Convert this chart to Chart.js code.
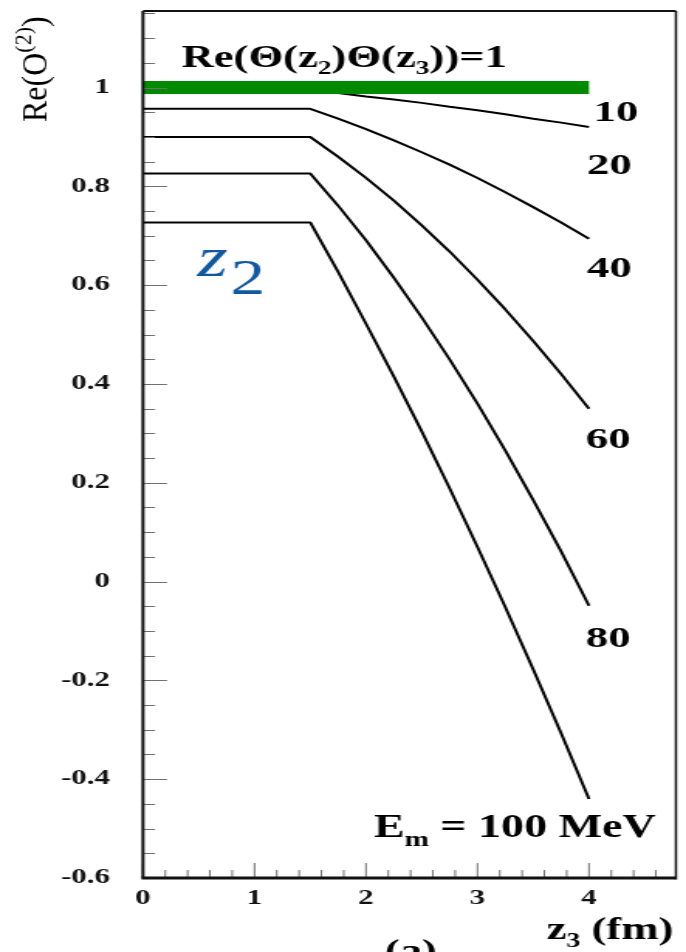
<!DOCTYPE html>
<html>
<head>
<meta charset="utf-8">
<title>Re(O(2)) vs z3</title>
<script src="https://cdn.jsdelivr.net/npm/chart.js@4.4.1/dist/chart.umd.min.js"></script>
<style>
  html, body { margin: 0; padding: 0; background: #ffffff; overflow: hidden; }
  /* the figure is laid out narrow and widened horizontally */
  #stage { width: 443px; height: 952px; transform: scaleX(1.548533); transform-origin: 0 0; }
</style>
</head>
<body>
<div id="stage"><canvas id="c"></canvas></div>
<script>
// ---- data -------------------------------------------------------------
// z3 sample points in fm
const z3 = [0, 1.5, 1.75, 2.0, 2.25, 2.5, 2.75, 3.0, 3.25, 3.5, 3.75, 4.0];

// Re(O^(2)) along z3 for each curve
const curve10 = [0.995, 0.995, 0.989, 0.982, 0.976, 0.969, 0.961, 0.954, 0.946, 0.937, 0.929, 0.920];
const curve20 = [0.957, 0.957, 0.937, 0.916, 0.893, 0.869, 0.844, 0.817, 0.788, 0.758, 0.727, 0.694];
const curve40 = [0.900, 0.900, 0.860, 0.817, 0.771, 0.721, 0.668, 0.611, 0.551, 0.487, 0.420, 0.350];
const curve60 = [0.826, 0.826, 0.761, 0.691, 0.615, 0.535, 0.450, 0.360, 0.265, 0.165, 0.061, -0.049];
const curve80 = [0.727, 0.727, 0.627, 0.522, 0.415, 0.304, 0.189, 0.070, -0.052, -0.178, -0.307, -0.440];

// reference level Re(Θ(z2)Θ(z3)) = 1
const unityZ3 = [0, 4];
const unityValue = [1, 1];

// curve tags written at the right-hand end
const curveTags = ['10', '20', '40', '60', '80'];

// axis tick labels
const xTickLabels = [0, 1, 2, 3, 4];
const yTickLabels = [-0.6, -0.4, -0.2, 0, 0.2, 0.4, 0.6, 0.8, 1];

// ---- layout helpers ---------------------------------------------------
const SX = 686 / 443;                 // horizontal widening of the stage
const SERIF = '"Liberation Serif", "Times New Roman", serif';

// minor tick grids: every 0.2 fm on z3, every 0.05 on Re(O)
const xTickValues = [];
for (let i = 0; i <= 23; i++) xTickValues.push(+(i * 0.2).toFixed(2));
const yTickValues = [];
for (let i = -12; i <= 23; i++) yTickValues.push(+(i * 0.05).toFixed(2));

const isListed = (v, list) => list.some(t => Math.abs(t - v) < 1e-6);
const fmt = v => String(Math.round(v * 100) / 100);

const toPoints = (xs, ys) => xs.map((x, i) => ({ x: x, y: ys[i] }));

const curves = [
  { name: '10', values: curve10 },
  { name: '20', values: curve20 },
  { name: '40', values: curve40 },
  { name: '60', values: curve60 },
  { name: '80', values: curve80 }
];

// text placements in data units (z3, Re)
const tagSpots = [[4.04, 0.933], [3.98, 0.826], [3.98, 0.617], [3.97, 0.271], [3.97, -0.132]];
const notes = {
  unity: { at: [0.345, 1.0425], sx: 0.93 },
  energy: { at: [2.07, -0.518], sx: 0.9 },
  unit: { at: [3.62, -0.7227], sx: 0.9 },
  panel: { at: [2.17, -0.769], sx: 0.9 },
  zTwo: { at: [0.487, 0.619], sx: 0.9 }
};

function drawRich(ctx, x, y, sx, parts) {
  ctx.save();
  ctx.translate(x, y);
  ctx.scale(sx, 1);
  ctx.textAlign = 'left';
  ctx.textBaseline = 'alphabetic';
  let cx = 0;
  parts.forEach(p => {
    ctx.font = p.font;
    ctx.fillStyle = p.color || '#000';
    ctx.fillText(p.t, cx + (p.dx || 0), p.dy || 0);
    cx += ctx.measureText(p.t).width + (p.dx || 0);
  });
  ctx.restore();
}

// ---- frame and inward tick marks --------------------------------------
const frameTicks = {
  id: 'frameTicks',
  afterDatasetsDraw(chart) {
    const { ctx, chartArea: a, scales: { x, y } } = chart;
    ctx.save();
    ctx.strokeStyle = '#707070';
    ctx.lineWidth = 1;
    ctx.beginPath();
    y.ticks.forEach(t => {
      const py = Math.round(y.getPixelForValue(t.value)) + 0.5;
      const len = isListed(t.value, yTickLabels) ? 15.5 : 7.8;
      ctx.moveTo(a.left, py);
      ctx.lineTo(a.left + len, py);
    });
    x.ticks.forEach(t => {
      const px = x.getPixelForValue(t.value);
      const len = isListed(t.value, xTickLabels) ? 15 : 8;
      ctx.moveTo(px, a.bottom);
      ctx.lineTo(px, a.bottom - len);
    });
    ctx.stroke();

    ctx.strokeStyle = '#111';
    ctx.lineWidth = 2;
    ctx.beginPath();
    ctx.moveTo(a.left, a.top); ctx.lineTo(a.left, a.bottom);
    ctx.stroke();
    ctx.lineWidth = 3;
    ctx.beginPath();
    ctx.moveTo(a.left - 1, a.bottom); ctx.lineTo(a.right, a.bottom);
    ctx.stroke();
    ctx.lineWidth = 2;
    ctx.beginPath();
    ctx.moveTo(a.left, a.top); ctx.lineTo(a.right, a.top);
    ctx.stroke();
    ctx.lineWidth = 1.5;
    ctx.beginPath();
    ctx.moveTo(a.right, a.top); ctx.lineTo(a.right, a.bottom + 1.5);
    ctx.stroke();
    ctx.restore();
  }
};

// ---- text written on the figure ----------------------------------------
const figureText = {
  id: 'figureText',
  afterDraw(chart) {
    const { ctx, scales: { x, y } } = chart;
    const P = at => [x.getPixelForValue(at[0]), y.getPixelForValue(at[1])];
    const B = s => 'bold ' + s + 'px ' + SERIF;

    let p = P(notes.unity.at);
    drawRich(ctx, p[0], p[1], notes.unity.sx, [
      { t: 'Re(\u0398(z', font: B(31) },
      { t: '2', font: B(19), dy: 7 },
      { t: ')\u0398(z', font: B(31) },
      { t: '3', font: B(19), dy: 7 },
      { t: '))=1', font: B(31) }
    ]);

    curveTags.forEach((tag, i) => {
      const q = P(tagSpots[i]);
      drawRich(ctx, q[0], q[1], 1, [{ t: tag, font: B(29) }]);
    });

    p = P(notes.energy.at);
    drawRich(ctx, p[0], p[1], notes.energy.sx, [
      { t: 'E', font: B(33) },
      { t: 'm', font: B(21), dy: 9 },
      { t: ' = 100 MeV', font: B(33) }
    ]);

    p = P(notes.unit.at);
    drawRich(ctx, p[0], p[1], notes.unit.sx, [
      { t: 'z', font: B(32) },
      { t: '3', font: B(20), dy: 8 },
      { t: ' (fm)', font: B(32) }
    ]);

    p = P(notes.panel.at);
    drawRich(ctx, p[0], p[1], notes.panel.sx, [{ t: '(a)', font: B(32) }]);

    p = P(notes.zTwo.at);
    drawRich(ctx, p[0], p[1], notes.zTwo.sx, [
      { t: 'z', font: 'italic 56px ' + SERIF, color: '#12589f' },
      { t: '2', font: '50px ' + SERIF, color: '#12589f', dy: 18, dx: 2 }
    ]);

    // vertical axis title Re(O^(2))
    ctx.save();
    ctx.translate(46 / SX, 122);
    ctx.scale(1.1 / SX, 1);
    ctx.rotate(-Math.PI / 2);
    ctx.fillStyle = '#000';
    ctx.textBaseline = 'alphabetic';
    let cx = 0;
    [{ t: 'Re(O', f: 32, dy: 0 }, { t: '(2)', f: 22, dy: -14 }, { t: ')', f: 32, dy: 0 }].forEach(s => {
      ctx.font = s.f + 'px ' + SERIF;
      ctx.fillText(s.t, cx, s.dy);
      cx += ctx.measureText(s.t).width;
    });
    ctx.restore();
  }
};

// ---- chart ------------------------------------------------------------
const tickFont = { family: SERIF, size: 20, weight: 'bold' };

new Chart(document.getElementById('c'), {
  type: 'line',
  data: {
    datasets: [
      {
        label: 'Re(\u0398(z2)\u0398(z3))=1',
        data: toPoints(unityZ3, unityValue),
        borderColor: '#008a00',
        borderWidth: 13,
        borderCapStyle: 'butt',
        order: 0
      }
    ].concat(curves.map(c => ({
      label: c.name,
      data: toPoints(z3, c.values),
      borderColor: '#000000',
      borderWidth: 2,
      borderJoinStyle: 'round',
      order: 1
    })))
  },
  options: {
    responsive: true,
    maintainAspectRatio: false,
    animation: false,
    devicePixelRatio: 1,
    layout: { padding: { top: 11, right: 1.94, bottom: 0, left: 0 } },
    elements: { point: { radius: 0 }, line: { tension: 0, fill: false } },
    plugins: { legend: { display: false }, tooltip: { enabled: false } },
    scales: {
      x: {
        type: 'linear',
        min: 0,
        max: 4.78,
        grid: { display: false, drawTicks: false },
        border: { display: false },
        afterBuildTicks: s => { s.ticks = xTickValues.map(v => ({ value: v })); },
        afterFit: s => { s.height = 74; s.paddingLeft = 0; s.paddingRight = 0; },
        ticks: {
          autoSkip: false, maxRotation: 0, minRotation: 0, padding: 8.5,
          color: '#111', font: tickFont,
          callback: v => isListed(v, xTickLabels) ? fmt(v) : ''
        }
      },
      y: {
        type: 'linear',
        min: -0.6,
        max: 1.155,
        grid: { display: false, drawTicks: false },
        border: { display: false },
        afterBuildTicks: s => { s.ticks = yTickValues.map(v => ({ value: v })); },
        afterFit: s => { s.width = 143 / SX; s.paddingTop = 0; s.paddingBottom = 0; },
        ticks: {
          autoSkip: false, padding: 21.3,
          color: '#111', font: tickFont,
          callback: v => isListed(v, yTickLabels) ? fmt(v) : ''
        }
      }
    }
  },
  plugins: [frameTicks, figureText]
});
</script>
</body>
</html>
